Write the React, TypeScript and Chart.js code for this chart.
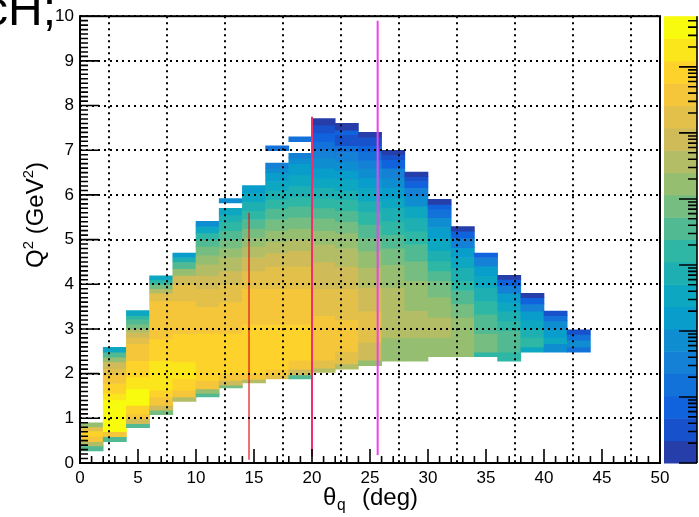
import React, { useEffect, useRef } from "react";
import { Chart, registerables } from "chart.js";

Chart.register(...registerables);

// theta_q bins (deg): low edges, each bin 2 deg wide
const thetaBinLow = [0, 2, 4, 6, 8, 10, 12, 14, 16, 18, 20, 22, 24, 26, 28, 30, 32, 34, 36, 38, 40, 42];
const thetaBinWidth = 2;

// one list per theta bin: [Q2 low, Q2 high, counts]
const col00 = [[0.27, 0.38, 3600], [0.38, 0.48, 3.7e4], [0.48, 0.6, 3.8e5], [0.6, 0.72, 8.3e5], [0.72, 0.81, 1.8e5], [0.81, 0.9, 1.7e4]];
const col02 = [[0.48, 0.59, 3600], [0.59, 0.7, 3.8e5], [0.7, 1.41, 4e6], [1.41, 1.56, 1.8e6], [1.56, 1.78, 8.3e5], [1.78, 1.97, 3.8e5], [1.97, 2.11, 1.8e5], [2.11, 2.26, 8.1e4], [2.26, 2.37, 1.7e4], [2.37, 2.48, 3600], [2.48, 2.59, 350]];
const col04 = [[0.79, 0.88, 3600], [0.88, 0.99, 8.1e4], [0.99, 1.1, 3.8e5], [1.1, 1.29, 8.3e5], [1.29, 1.66, 4e6], [1.66, 1.92, 1.8e6], [1.92, 2.29, 8.3e5], [2.29, 2.67, 3.8e5], [2.67, 2.81, 1.8e5], [2.81, 2.92, 8.1e4], [2.92, 3.0, 3.7e4], [3.0, 3.11, 7800], [3.11, 3.22, 3600], [3.22, 3.3, 1600], [3.3, 3.41, 350]];
const col06 = [[1.08, 1.18, 7800], [1.18, 1.29, 8.1e4], [1.29, 1.48, 3.8e5], [1.48, 1.63, 8.3e5], [1.63, 2.29, 1.8e6], [2.29, 2.77, 8.3e5], [2.77, 3.63, 3.8e5], [3.63, 3.8, 1.8e5], [3.8, 3.9, 3.7e4], [3.9, 4.0, 7800], [4.0, 4.1, 1600], [4.1, 4.19, 350]];
const col08 = [[1.38, 1.48, 3.7e4], [1.48, 1.63, 3.8e5], [1.63, 1.89, 8.3e5], [1.89, 2.26, 1.8e6], [2.26, 2.89, 8.3e5], [2.89, 3.63, 3.8e5], [3.63, 4.0, 1.8e5], [4.0, 4.2, 8.1e4], [4.2, 4.35, 1.7e4], [4.35, 4.5, 3600], [4.5, 4.6, 750], [4.6, 4.7, 160]];
const col10 = [[1.48, 1.56, 3600], [1.56, 1.66, 1.7e4], [1.66, 1.85, 3.8e5], [1.85, 2.9, 8.3e5], [2.9, 3.5, 3.8e5], [3.5, 3.9, 1.8e5], [3.9, 4.2, 8.1e4], [4.2, 4.45, 3.7e4], [4.45, 4.65, 1.7e4], [4.65, 4.85, 7800], [4.85, 5.0, 3600], [5.0, 5.15, 1600], [5.15, 5.3, 350], [5.3, 5.41, 72]];
const col12 = [[1.68, 1.74, 7800], [1.74, 1.85, 8.1e4], [1.85, 2.0, 3.8e5], [2.0, 2.9, 8.3e5], [2.9, 3.6, 3.8e5], [3.6, 4.0, 1.8e5], [4.0, 4.3, 8.1e4], [4.3, 4.6, 3.7e4], [4.6, 4.8, 1.7e4], [4.8, 5.0, 7800], [5.0, 5.2, 3600], [5.2, 5.4, 1600], [5.4, 5.55, 750], [5.55, 5.7, 350], [5.82, 5.92, 72]];
const col14 = [[1.79, 1.87, 3.7e4], [1.87, 2.0, 3.8e5], [2.0, 3.1, 8.3e5], [3.1, 3.9, 3.8e5], [3.9, 4.3, 1.8e5], [4.3, 4.6, 8.1e4], [4.6, 4.85, 3.7e4], [4.85, 5.05, 1.7e4], [5.05, 5.25, 7800], [5.25, 5.45, 3600], [5.45, 5.65, 1600], [5.65, 5.85, 750], [5.85, 6.05, 350], [6.05, 6.21, 160]];
const col16 = [[1.88, 1.97, 1.8e5], [1.97, 2.1, 3.8e5], [2.1, 3.1, 8.3e5], [3.1, 3.9, 3.8e5], [3.9, 4.4, 1.8e5], [4.4, 4.7, 8.1e4], [4.7, 4.95, 3.7e4], [4.95, 5.2, 1.7e4], [5.2, 5.45, 7800], [5.45, 5.7, 3600], [5.7, 5.9, 1600], [5.9, 6.1, 750], [6.1, 6.3, 350], [6.3, 6.5, 160], [6.5, 6.6, 72], [6.6, 6.71, 33], [6.99, 7.1, 15]];
const col18 = [[1.88, 1.97, 3600], [1.97, 2.1, 8.1e4], [2.1, 2.3, 3.8e5], [2.3, 3.1, 8.3e5], [3.1, 3.9, 3.8e5], [3.9, 4.4, 1.8e5], [4.4, 4.75, 8.1e4], [4.75, 5.0, 3.7e4], [5.0, 5.25, 1.7e4], [5.25, 5.5, 7800], [5.5, 5.75, 3600], [5.75, 5.95, 1600], [5.95, 6.2, 750], [6.2, 6.45, 350], [6.45, 6.7, 160], [6.7, 6.83, 72], [6.83, 6.93, 33], [7.19, 7.3, 15]];
const col20 = [[2.03, 2.12, 3.7e4], [2.12, 2.3, 1.8e5], [2.3, 3.3, 3.8e5], [3.3, 3.9, 1.8e5], [3.9, 4.5, 8.1e4], [4.5, 4.9, 3.7e4], [4.9, 5.2, 1.7e4], [5.2, 5.48, 7800], [5.48, 5.71, 3600], [5.71, 5.93, 1600], [5.93, 6.16, 750], [6.16, 6.38, 350], [6.38, 6.6, 160], [6.6, 6.82, 72], [6.82, 7.01, 33], [7.01, 7.19, 15], [7.19, 7.38, 7], [7.38, 7.56, 3], [7.56, 7.71, 1.5]];
const col22 = [[2.1, 2.22, 3.7e4], [2.22, 2.5, 1.8e5], [2.5, 3.2, 3.8e5], [3.2, 3.9, 1.8e5], [3.9, 4.4, 8.1e4], [4.4, 4.8, 3.7e4], [4.8, 5.15, 1.7e4], [5.15, 5.4, 7800], [5.4, 5.65, 3600], [5.65, 5.9, 1600], [5.9, 6.1, 750], [6.1, 6.35, 350], [6.35, 6.55, 160], [6.55, 6.75, 72], [6.75, 6.95, 33], [6.95, 7.1, 15], [7.1, 7.35, 3], [7.35, 7.45, 7], [7.45, 7.6, 1.5]];
const col24 = [[2.18, 2.3, 1.7e4], [2.3, 2.7, 8.1e4], [2.7, 3.4, 1.8e5], [3.4, 3.93, 8.1e4], [3.93, 4.37, 3.7e4], [4.37, 4.74, 1.7e4], [4.74, 5.04, 7800], [5.04, 5.34, 3600], [5.34, 5.63, 1600], [5.63, 5.86, 750], [5.86, 6.16, 350], [6.16, 6.38, 160], [6.38, 6.6, 72], [6.6, 6.78, 33], [6.78, 6.97, 15], [6.97, 7.1, 7], [7.1, 7.29, 3], [7.29, 7.4, 1.5]];
const col26 = [[2.28, 2.8, 1.7e4], [2.8, 3.93, 3.7e4], [3.93, 4.44, 1.7e4], [4.44, 4.81, 7800], [4.81, 5.11, 3600], [5.11, 5.41, 1600], [5.41, 5.71, 750], [5.71, 5.93, 350], [5.93, 6.16, 160], [6.16, 6.38, 72], [6.38, 6.6, 33], [6.6, 6.79, 7], [6.79, 6.9, 3], [6.9, 7.0, 1.5]];
const col28 = [[2.28, 2.81, 1.7e4], [2.81, 3.41, 3.7e4], [3.41, 4.08, 1.7e4], [4.08, 4.52, 7800], [4.52, 4.89, 3600], [4.89, 5.19, 1600], [5.19, 5.49, 750], [5.49, 5.75, 350], [5.75, 5.97, 72], [5.97, 6.16, 33], [6.16, 6.3, 7], [6.3, 6.41, 3], [6.41, 6.51, 1.5]];
const col30 = [[2.38, 2.81, 1.7e4], [2.81, 3.26, 3.7e4], [3.26, 3.71, 1.7e4], [3.71, 4.08, 7800], [4.08, 4.3, 3600], [4.3, 4.52, 1600], [4.52, 4.75, 750], [4.75, 5.04, 350], [5.04, 5.27, 160], [5.27, 5.49, 72], [5.49, 5.68, 15], [5.68, 5.79, 7], [5.79, 5.9, 1.5]];
const col32 = [[2.38, 3.26, 1.7e4], [3.26, 3.56, 7800], [3.56, 3.86, 3600], [3.86, 4.08, 1600], [4.08, 4.37, 750], [4.37, 4.6, 350], [4.6, 4.82, 160], [4.82, 5.04, 33], [5.04, 5.19, 7], [5.19, 5.29, 1.5]];
const col34 = [[2.38, 2.48, 1600], [2.48, 2.9, 7800], [2.9, 3.33, 3600], [3.33, 3.63, 1600], [3.63, 3.93, 750], [3.93, 4.19, 350], [4.19, 4.41, 160], [4.41, 4.6, 33], [4.6, 4.7, 7]];
const col36 = [[2.28, 2.48, 1600], [2.48, 2.96, 3600], [2.96, 3.18, 1600], [3.18, 3.4, 750], [3.4, 3.6, 350], [3.6, 3.8, 160], [3.8, 3.97, 33], [3.97, 4.11, 7], [4.11, 4.2, 1.5]];
const col38 = [[2.48, 2.6, 350], [2.6, 2.81, 1600], [2.81, 3.0, 750], [3.0, 3.2, 350], [3.2, 3.4, 160], [3.4, 3.56, 33], [3.56, 3.7, 7], [3.7, 3.8, 1.5]];
const col40 = [[2.48, 2.67, 72], [2.67, 2.81, 350], [2.81, 3.0, 160], [3.0, 3.18, 72], [3.18, 3.3, 15], [3.3, 3.4, 3]];
const col42 = [[2.48, 2.6, 15], [2.6, 2.75, 72], [2.75, 2.88, 15], [2.88, 2.98, 3]];

const columns = [col00, col02, col04, col06, col08, col10, col12, col14, col16, col18, col20, col22, col24, col26, col28, col30, col32, col34, col36, col38, col40, col42];

// vertical cut lines
const cutTheta = [14.57, 20.0, 25.66];
const cutQ2Low = [0.07, 0.14, 0.18];
const cutQ2High = [5.6, 7.75, 9.9];

// axis tick labels
const xTickValues = [0, 5, 10, 15, 20, 25, 30, 35, 40, 45, 50];
const yTickValues = [0, 1, 2, 3, 4, 5, 6, 7, 8, 9, 10];

// colour axis (log)
const zMin = 1;
const zMax = 5.86e6;
const nContours = 20;

// kBird palette
const birdStops = [0, 0.125, 0.25, 0.375, 0.5, 0.625, 0.75, 0.875, 1];
const birdR = [0.2082, 0.0592, 0.078, 0.0232, 0.1802, 0.5301, 0.8186, 0.9956, 0.9764];
const birdG = [0.1664, 0.3599, 0.5041, 0.6419, 0.7178, 0.7492, 0.7328, 0.7862, 0.9832];
const birdB = [0.5293, 0.8684, 0.8385, 0.7914, 0.6425, 0.4662, 0.3499, 0.1968, 0.0539];

function bird(f: number) {
  const t = Math.min(1, Math.max(0, f));
  let i = 0;
  while (i < birdStops.length - 2 && t > birdStops[i + 1]) i++;
  const u = (t - birdStops[i]) / (birdStops[i + 1] - birdStops[i]);
  const c = (a: number[]) => Math.round(255 * (a[i] + u * (a[i + 1] - a[i])));
  return `rgb(${c(birdR)},${c(birdG)},${c(birdB)})`;
}
function levelOf(v: number) {
  const t = Math.log10(v / zMin) / Math.log10(zMax / zMin);
  return Math.min(nContours - 1, Math.max(0, Math.floor(t * nContours)));
}
function colorFor(v: number) {
  return bird((levelOf(v) + 0.99) / nContours);
}

const FONT = "'Liberation Sans', Arial, Helvetica, sans-serif";

type Part = { t: string; s?: number; dy?: number };
function partsWidth(ctx: CanvasRenderingContext2D, parts: Part[], size: number) {
  let w = 0;
  for (const p of parts) {
    ctx.font = `${size * (p.s ?? 1)}px ${FONT}`;
    w += ctx.measureText(p.t).width;
  }
  return w;
}
function drawParts(ctx: CanvasRenderingContext2D, parts: Part[], x: number, y: number, size: number) {
  let cx = x;
  for (const p of parts) {
    ctx.font = `${size * (p.s ?? 1)}px ${FONT}`;
    ctx.fillText(p.t, cx, y + (p.dy ?? 0) * size);
    cx += ctx.measureText(p.t).width;
  }
}

const decorPlugin = {
  id: "rootDecor",
  afterDraw(chart: any) {
    const { ctx, chartArea: a, scales } = chart;
    const xs = scales.x;
    const ys = scales.y;
    const zs = scales.zbar;
    ctx.save();
    ctx.fillStyle = "#000";
    ctx.strokeStyle = "#000";

    // frame
    ctx.lineWidth = 2;
    ctx.strokeRect(a.left, a.top, a.right - a.left, a.bottom - a.top);

    // inward ticks
    ctx.lineWidth = 1.6;
    ctx.beginPath();
    for (let i = 0; i <= 50; i++) {
      const px = xs.getPixelForValue(i);
      const len = i % 5 === 0 ? 14 : 7;
      ctx.moveTo(px, a.bottom);
      ctx.lineTo(px, a.bottom - len);
    }
    for (let i = 0; i <= 100; i++) {
      const py = ys.getPixelForValue(i / 10);
      const len = i % 10 === 0 ? 19 : 8;
      ctx.moveTo(a.left, py);
      ctx.lineTo(a.left + len, py);
    }
    ctx.stroke();

    // colour bar
    const cbL = a.right + 4;
    const cbR = a.right + 37;
    for (let i = 0; i < nContours; i++) {
      const v0 = zMin * Math.pow(zMax / zMin, i / nContours);
      const v1 = zMin * Math.pow(zMax / zMin, (i + 1) / nContours);
      const y0 = zs.getPixelForValue(v0);
      const y1 = zs.getPixelForValue(v1);
      ctx.fillStyle = bird((i + 0.99) / nContours);
      ctx.fillRect(cbL, y1, cbR - cbL, y0 - y1 + 0.5);
    }
    ctx.lineWidth = 1.6;
    ctx.beginPath();
    ctx.moveTo(cbR, zs.getPixelForValue(zMin));
    ctx.lineTo(cbR, zs.getPixelForValue(zMax));
    for (let e = 0; e <= 7; e++) {
      for (let m = 1; m <= 9; m++) {
        const v = m * Math.pow(10, e);
        if (v < zMin * 0.999 || v > zMax) continue;
        const py = zs.getPixelForValue(v);
        const len = m === 1 ? 18 : 9;
        ctx.moveTo(cbR, py);
        ctx.lineTo(cbR - len, py);
      }
    }
    ctx.stroke();

    // titles
    ctx.fillStyle = "#000";
    ctx.textBaseline = "alphabetic";
    ctx.textAlign = "left";
    ctx.font = `48px ${FONT}`;
    ctx.fillText("cH;", -16, 25);

    // x title: theta_q (deg)
    const xs1 = 24;
    ctx.font = `${xs1}px ${FONT}`;
    ctx.fillText("\u03b8", 323, 505);
    ctx.font = `${xs1 * 0.65}px ${FONT}`;
    ctx.fillText("q", 337, 510);
    ctx.font = `${xs1}px ${FONT}`;
    ctx.textAlign = "right";
    ctx.fillText("(deg)", 418, 505);
    ctx.textAlign = "left";

    // y title: Q^2 (GeV^2)
    const yparts: Part[] = [
      { t: "Q" },
      { t: "2", s: 0.62, dy: -0.42 },
      { t: " (GeV" },
      { t: "2", s: 0.62, dy: -0.42 },
      { t: ")" },
    ];
    const ysz = 24;
    ctx.save();
    ctx.translate(43, 215);
    ctx.rotate(-Math.PI / 2);
    const w = partsWidth(ctx, yparts, ysz);
    drawParts(ctx, yparts, -w / 2, 0, ysz);
    ctx.restore();

    ctx.restore();
  },
};

export default function App() {
  const ref = useRef<HTMLCanvasElement | null>(null);
  useEffect(() => {
    document.body.style.margin = "0";
    const canvas = ref.current;
    if (!canvas) return;

    const cells: any[] = [];
    columns.forEach((col, k) => {
      col.forEach(([lo, hi, c]) => {
        cells.push({ x: thetaBinLow[k] + thetaBinWidth / 2, y: [lo, hi], c });
      });
    });

    const cutColors = ["#e01018", "#f0306e", "#f040f0"];
    const cutWidths = [1.2, 2, 2];

    const chart = new Chart(canvas, {
      type: "bar",
      data: {
        datasets: [
          {
            type: "bar",
            data: cells,
            backgroundColor: (c: any) => (c.raw ? colorFor(c.raw.c) : "#000"),
            borderWidth: 0,
            barPercentage: 1,
            categoryPercentage: 1,
            grouped: false,
            order: 1,
          } as any,
          ...cutTheta.map((t, i) => ({
            type: "line",
            data: [
              { x: t, y: cutQ2Low[i] },
              { x: t, y: cutQ2High[i] },
            ],
            borderColor: cutColors[i],
            borderWidth: cutWidths[i],
            pointRadius: 0,
            fill: false,
            order: -1,
          })) as any,
        ],
      },
      options: {
        responsive: false,
        animation: false,
        events: [],
        layout: { padding: { top: 14, right: 39, left: 0, bottom: 0 } },
        plugins: { legend: { display: false }, tooltip: { enabled: false } },
        scales: {
          x: {
            type: "linear",
            min: 0,
            max: 50,
            offset: false,
            afterBuildTicks: (s: any) => {
              s.ticks = xTickValues.map((v) => ({ value: v }));
            },
            afterFit: (s: any) => {
              s.height = 54;
            },
            ticks: {
              autoSkip: false,
              maxRotation: 0,
              padding: 5,
              color: "#000",
              font: { family: FONT, size: 17 },
            },
            grid: { color: "#000", lineWidth: 2, drawTicks: false, tickLength: 0, z: 1 },
            border: { display: false, dash: [2, 4] },
          },
          y: {
            type: "linear",
            min: 0,
            max: 10,
            afterBuildTicks: (s: any) => {
              s.ticks = yTickValues.map((v) => ({ value: v }));
            },
            afterFit: (s: any) => {
              s.width = 80;
            },
            ticks: {
              autoSkip: false,
              padding: 6,
              color: "#000",
              font: { family: FONT, size: 17 },
            },
            grid: { color: "#000", lineWidth: 2, drawTicks: false, tickLength: 0, z: 1 },
            border: { display: false, dash: [2, 4] },
          },
          zbar: {
            type: "logarithmic",
            axis: "y",
            position: "right",
            display: false,
            min: zMin,
            max: zMax,
          },
        } as any,
      },
      plugins: [decorPlugin],
    } as any);
    return () => chart.destroy();
  }, []);

  return (
    <div style={{ position: "fixed", left: 0, top: 0, width: 699, height: 517, background: "#fff" }}>
      <canvas ref={ref} width={699} height={517} style={{ display: "block", width: 699, height: 517 }} />
    </div>
  );
}
